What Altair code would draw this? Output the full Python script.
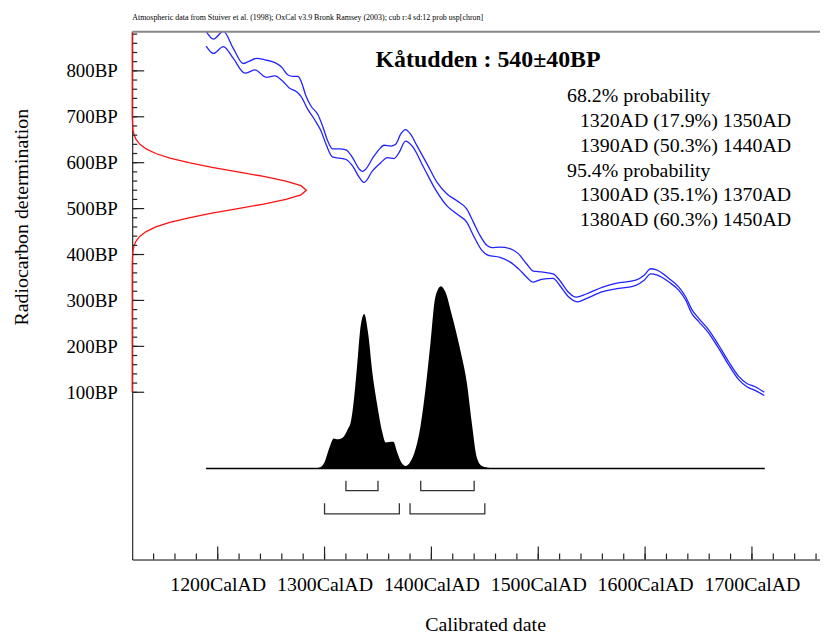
import altair as alt
import pandas as pd

# ---------------- data ----------------
# Calibration curve, upper (+1 sigma) line
upper_year = [1189.2, 1196.0, 1205.3, 1214.6, 1223.9, 1228.6, 1236.3, 1244.1, 1253.4, 1259.5, 1265.8,
              1270.4, 1275.1, 1278.1, 1282.8, 1287.4, 1293.7, 1298.3, 1303.0, 1307.6, 1313.9, 1320.0,
              1326.2, 1332.5, 1335.6, 1338.6, 1345.3, 1351.1, 1355.7, 1361.9, 1366.5, 1371.2, 1375.8,
              1380.5, 1386.7, 1396.0, 1405.3, 1414.6, 1423.9, 1433.2, 1439.4, 1445.6, 1451.8, 1456.5,
              1464.2, 1473.5, 1481.3, 1489.0, 1495.3, 1503.0, 1513.9, 1520.0, 1527.8, 1535.5, 1544.9,
              1560.4, 1572.7, 1591.3, 1599.1, 1605.3, 1610.0, 1622.3, 1631.6, 1637.9, 1644.1, 1650.2,
              1659.5, 1668.8, 1678.1, 1687.4, 1695.3, 1703.0, 1711.6]
upper_bp = [886, 869, 886, 849, 816, 820, 827, 824, 818, 809, 791,
            788, 788, 777, 744, 723, 705, 679, 647, 630, 630, 628,
            611, 586, 581, 586, 611, 629, 638, 636, 640, 662, 672,
            662, 636, 597, 557, 532, 517, 499, 470, 441, 420, 415,
            416, 413, 402, 380, 364, 362, 358, 344, 319, 307, 314,
            329, 337, 344, 355, 369, 367, 348, 329, 308, 279, 261,
            236, 203, 167, 135, 119, 112, 100]

# Calibration curve, lower (-1 sigma) line
lower_year = [1189.2, 1196.0, 1205.3, 1214.6, 1225.5, 1234.8, 1245.6, 1253.4, 1261.1, 1267.3, 1273.5,
              1278.1, 1284.3, 1290.6, 1296.7, 1301.4, 1307.6, 1313.9, 1320.0, 1326.2, 1332.5, 1337.1,
              1344.8, 1352.6, 1358.8, 1365.0, 1369.7, 1375.8, 1382.1, 1392.9, 1403.7, 1414.6, 1423.9,
              1433.2, 1439.4, 1447.2, 1453.4, 1464.2, 1473.5, 1482.8, 1489.0, 1495.3, 1503.0, 1513.9,
              1520.0, 1527.8, 1536.5, 1544.9, 1560.4, 1572.7, 1591.3, 1599.1, 1605.3, 1611.5, 1622.3,
              1631.6, 1637.9, 1644.1, 1650.2, 1659.5, 1668.8, 1678.1, 1687.4, 1695.3, 1703.0, 1711.6]
lower_bp = [854, 838, 853, 827, 795, 802, 786, 789, 777, 762, 755,
            744, 716, 694, 669, 640, 612, 610, 607, 593, 568, 557,
            582, 600, 611, 609, 622, 647, 636, 589, 542, 506, 488,
            470, 441, 409, 398, 394, 384, 366, 351, 340, 346, 348,
            333, 309, 297, 304, 319, 325, 333, 344, 358, 355, 340,
            322, 301, 270, 254, 229, 196, 160, 128, 112, 104, 93]

# Radiocarbon measurement 540 +/- 40 BP (relative density, drawn sideways)
c14_bp = [100, 380, 400, 410, 420, 430, 440, 450, 460, 470, 480, 490, 500, 510, 520, 530, 540,
          550, 560, 570, 580, 590, 600, 610, 620, 630, 640, 650, 660, 670, 680, 700, 885]
c14_dens = [0, 0, 0.002, 0.005, 0.011, 0.023, 0.044, 0.080, 0.135, 0.216, 0.325, 0.458, 0.607,
            0.755, 0.882, 0.969, 1.0, 0.969, 0.882, 0.755, 0.607, 0.458, 0.325, 0.216, 0.135,
            0.080, 0.044, 0.023, 0.011, 0.005, 0.002, 0, 0]

# Calibrated probability distribution (relative)
cal_year = [1189, 1290, 1295.3, 1299.9, 1304.6, 1308.6, 1312.3, 1316.9, 1321.6, 1324.7, 1327.8,
            1330.9, 1333.0, 1337.1, 1340.8, 1344.8, 1349.5, 1354.1, 1357.2, 1360.4, 1364.4,
            1368.1, 1371.9, 1375.8, 1379.9, 1385.1, 1389.8, 1394.4, 1399.1, 1403.7, 1409.0,
            1413.0, 1419.2, 1427.0, 1433.2, 1437.8, 1442.5, 1447.2, 1454.9, 1460, 1712]
cal_prob = [0, 0, 0.005, 0.033, 0.115, 0.165, 0.160, 0.169, 0.214, 0.259, 0.395,
            0.595, 0.741, 0.847, 0.741, 0.524, 0.342, 0.197, 0.142, 0.145, 0.147,
            0.087, 0.033, 0.014, 0.033, 0.105, 0.232, 0.432, 0.687, 0.941, 1.0,
            0.969, 0.840, 0.651, 0.469, 0.251, 0.060, 0.014, 0.003, 0, 0]

# Probability ranges
range68_from = [1320, 1390]
range68_to = [1350, 1440]
range95_from = [1300, 1380]
range95_to = [1370, 1450]

# Axis ticks
y_major = [100, 200, 300, 400, 500, 600, 700, 800]
y_minor = list(range(100, 881, 20))
x_major = [1200, 1300, 1400, 1500, 1600, 1700]
x_minor = list(range(1140, 1761, 20))

title_text = "Kåtudden : 540±40BP"
subtitle_text = "Atmospheric data from Stuiver et al. (1998); OxCal v3.9 Bronk Ramsey (2003); cub r:4 sd:12 prob usp[chron]"
info_lines = ["68.2% probability", "1320AD (17.9%) 1350AD", "1390AD (50.3%) 1440AD",
              "95.4% probability", "1300AD (35.1%) 1370AD", "1380AD (60.3%) 1450AD"]
info_indent = [0, 1, 1, 0, 1, 1]

# ---------------- layout constants ----------------
W, H = 692, 531
XDOM = [1120, 1763.7]
YDOM = [-264.3, 885.1]
RED_AMP = 163      # years for peak of red curve
DIST_BASE = -66    # baseline of calibrated distribution (BP units)
DIST_AMP = 397
LV68 = (-114.3, -92.7)
LV95 = (-164.7, -141.6)
FONT = "Liberation Serif"

xs = alt.Scale(domain=XDOM, nice=False, zero=False)
ys = alt.Scale(domain=YDOM, nice=False, zero=False)

curve_df = pd.concat([
    pd.DataFrame({"year": upper_year, "bp": upper_bp, "line": "upper"}),
    pd.DataFrame({"year": lower_year, "bp": lower_bp, "line": "lower"}),
])

curves = alt.Chart(curve_df).mark_line(color="#2222ff", strokeWidth=1.3, clip=True,
                                       interpolate="monotone").encode(
    x=alt.X("year:Q", scale=xs, axis=alt.Axis(
        values=x_major, labelExpr="datum.value + 'CalAD'", title="Calibrated date",
        ticks=False, grid=False, domain=True, domainColor="black", domainWidth=1,
        labelPadding=15, labelFlush=False, labelOverlap=False, labelFontSize=20,
        titleX=355, titleY=65, titleBaseline="middle", titleAlign="center")),
    y=alt.Y("bp:Q", scale=ys, axis=alt.Axis(
        values=y_major, labelExpr="datum.value + 'BP'", title="Radiocarbon determination",
        ticks=False, grid=False, domain=True, domainColor="black", domainWidth=1,
        labelPadding=15, labelFlush=False, labelOverlap=False,
        titleX=-111, titleY=186, titleAngle=270, titleAlign="center", titleBaseline="middle")),
    detail="line:N",
)

red = alt.Chart(pd.DataFrame({"bp": c14_bp, "dens": c14_dens})).transform_calculate(
    year=f"{XDOM[0]} + datum.dens * {RED_AMP}"
).mark_line(color="#ff1010", strokeWidth=1.3, clip=False).encode(
    x=alt.X("year:Q", scale=xs), y=alt.Y("bp:Q", scale=ys), order="bp:Q"
)

dist_df = pd.DataFrame({"year": cal_year, "prob": cal_prob})
dist = alt.Chart(dist_df).transform_calculate(
    bp=f"{DIST_BASE} + datum.prob * {DIST_AMP}", base=f"{DIST_BASE}"
).mark_area(color="black", interpolate="monotone").encode(
    x=alt.X("year:Q", scale=xs), y=alt.Y("bp:Q", scale=ys), y2="base:Q"
)

baseline = alt.Chart(pd.DataFrame({"year": [cal_year[0]], "year2": [cal_year[-1]], "bp": [DIST_BASE]})).mark_rule(
    color="black", strokeWidth=1.5).encode(x=alt.X("year:Q", scale=xs), x2="year2:Q", y=alt.Y("bp:Q", scale=ys))

rows = []
k = 0
for starts, ends, (bot, top) in [(range68_from, range68_to, LV68), (range95_from, range95_to, LV95)]:
    for a, b in zip(starts, ends):
        for s, (yr, lv) in enumerate([(a, top), (a, bot), (b, bot), (b, top)]):
            rows.append({"year": yr, "bp": lv, "id": k, "seq": s})
        k += 1
brackets = alt.Chart(pd.DataFrame(rows)).mark_line(color="#333333", strokeWidth=1.3).encode(
    x=alt.X("year:Q", scale=xs), y=alt.Y("bp:Q", scale=ys), detail="id:N", order="seq:Q"
)

tick_color = "#222222"
ymaj = alt.Chart(pd.DataFrame({"bp": y_major})).mark_rule(color=tick_color, strokeWidth=1.2).encode(
    y=alt.Y("bp:Q", scale=ys), x=alt.value(0.5), x2=alt.value(12))
ymin = alt.Chart(pd.DataFrame({"bp": y_minor})).mark_rule(color=tick_color, strokeWidth=1.2).encode(
    y=alt.Y("bp:Q", scale=ys), x=alt.value(0.5), x2=alt.value(5))
xmaj = alt.Chart(pd.DataFrame({"year": x_major})).mark_rule(color=tick_color, strokeWidth=1.2).encode(
    x=alt.X("year:Q", scale=xs), y=alt.value(H), y2=alt.value(H - 13))
xmin = alt.Chart(pd.DataFrame({"year": x_minor})).mark_rule(color=tick_color, strokeWidth=1.2).encode(
    x=alt.X("year:Q", scale=xs), y=alt.value(H), y2=alt.value(H - 6))

one = pd.DataFrame({"d": [0]})
topframe = alt.Chart(one).mark_rule(color="#888888", strokeWidth=2).encode(
    x=alt.value(0), x2=alt.value(W), y=alt.value(0))

title = alt.Chart(pd.DataFrame({"t": [title_text]})).mark_text(
    font=FONT, fontSize=24, fontWeight="bold", align="center", baseline="alphabetic", color="black"
).encode(x=alt.value(358), y=alt.value(35), text="t:N")

subtitle = alt.Chart(pd.DataFrame({"t": [subtitle_text]})).mark_text(
    font=FONT, fontSize=8, align="left", baseline="middle", color="black"
).encode(x=alt.value(0), y=alt.value(-14), text="t:N")

info_df = pd.DataFrame({"t": info_lines, "ind": info_indent, "i": list(range(len(info_lines)))})
info = alt.Chart(info_df).transform_calculate(
    px="437.4 + datum.ind * 13", py="65 + datum.i * 24.9"
).mark_text(font=FONT, fontSize=20, align="left", baseline="middle", color="black").encode(
    x=alt.X("px:Q", scale=None), y=alt.Y("py:Q", scale=None), text="t:N")

chart = alt.layer(
    curves, red, dist, baseline, brackets, ymaj, ymin, xmaj, xmin, topframe, title, subtitle, info
).properties(
    width=W, height=H,
    autosize=alt.AutoSizeParams(type="none"),
    padding={"left": 125, "top": 22, "right": 0, "bottom": 74},
).configure_view(stroke=None).configure_axis(
    labelFont=FONT, titleFont=FONT, labelFontSize=19, titleFontSize=20,
    labelColor="black", titleColor="black", titleFontWeight="normal"
)

chart.save("out.html", embed_options={"renderer": "svg", "actions": False})
